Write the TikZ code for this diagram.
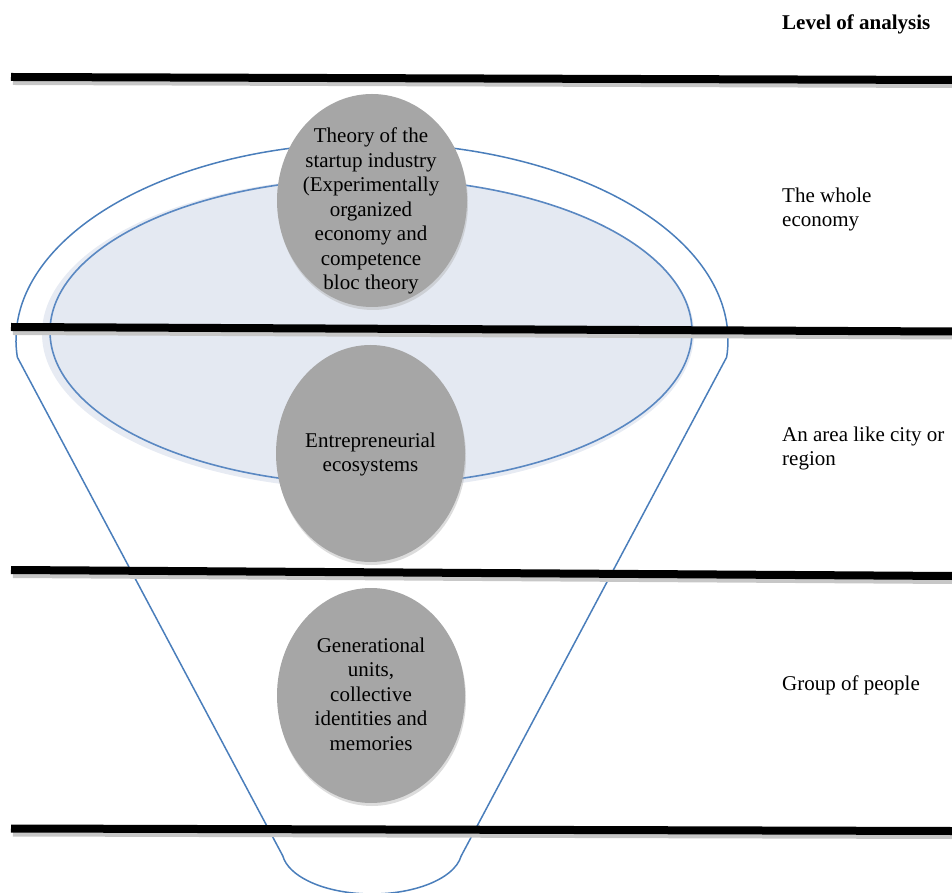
\documentclass[tikz,border=0pt]{standalone}
\usepackage{fontspec}
\setmainfont{LiberationSerif}[Extension=.ttf, UprightFont=*-Regular, BoldFont=*-Bold, ItalicFont=*-Italic, BoldItalicFont=*-BoldItalic]
\usetikzlibrary{shapes.geometric}
\definecolor{funnelblue}{HTML}{4A7EBB}
\definecolor{ringblue}{HTML}{5A88C2}
\definecolor{ovalfill}{HTML}{E4E9F2}
\definecolor{halofill}{HTML}{E7EBF3}
\definecolor{bubblegray}{HTML}{A6A6A6}
\begin{document}
\begin{tikzpicture}[x=1pt,y=1pt,
  hbar/.style={line width=8pt, black},
  hbarshadow/.style={line width=6pt, black!22},
  bubble/.style={shape=ellipse, fill=bubblegray, draw=none, inner sep=0pt},
  bubbleshadow/.style={shape=ellipse, fill=black!30, opacity=0.45, draw=none, inner sep=0pt},
  bubbletext/.style={align=center, font=\fontsize{21}{24.5}\selectfont, inner sep=0pt},
  leveltext/.style={align=left, anchor=west, font=\fontsize{21}{24}\selectfont, inner sep=0pt}]
\useasboundingbox (0,0) rectangle (952,892);
\clip (0,0) rectangle (952,892);

% inner oval with halo
\fill[halofill] (368,558.5) ellipse [x radius=326, y radius=156];
\filldraw[fill=ovalfill, draw=ringblue, line width=1.6pt] (371,560.5) ellipse [x radius=321, y radius=153];

% funnel outline
\draw[funnelblue, line width=1.5pt, line join=round]
  (282.9,35.9) -- (17.35,534.8)
  arc[start angle=185, end angle=-5, x radius=356, y radius=197]
  -- (461.1,35.9)
  arc[start angle=-8, end angle=-172, x radius=90, y radius=44]
  -- cycle;

% bubbles
\node[bubbleshadow, minimum width=190pt, minimum height=213pt] at (373,688.5) {};
\node[bubble, minimum width=190pt, minimum height=213pt] (c1) at (372,691.5) {};
\node[bubbleshadow, minimum width=189pt, minimum height=217pt] at (371.5,435.5) {};
\node[bubble, minimum width=189pt, minimum height=217pt] (c2) at (370.5,438.5) {};
\node[bubbleshadow, minimum width=188pt, minimum height=215pt] at (372,193.5) {};
\node[bubble, minimum width=188pt, minimum height=215pt] (c3) at (371,196.5) {};

% horizontal bars
\draw[hbarshadow] (13,810) -- (952,807);
\draw[hbar] (11,815) -- (952,812);
\draw[hbarshadow] (13,560) -- (952,555.5);
\draw[hbar] (11,565) -- (952,560.5);
\draw[hbarshadow] (13,317) -- (952,311);
\draw[hbar] (11,322) -- (952,316);
\draw[hbarshadow] (13,58.5) -- (952,56);
\draw[hbar] (11,63.5) -- (952,61);

% bubble texts
\node[bubbletext] (t1) at (371,681) {Theory of the\\startup industry\\(Experimentally\\organized\\economy and\\competence\\bloc theory};
\node[bubbletext] (t2) at (370.5,437.5) {Entrepreneurial\\ecosystems};
\node[bubbletext] (t3) at (371,198) {Generational\\units,\\collective\\identities and\\memories};

% level labels
\node[leveltext, font=\fontsize{21}{24}\selectfont\bfseries] (h) at (782,868) {Level of analysis};
\node[leveltext] (l1) at (782,682.5) {The whole\\economy};
\node[leveltext] (l2) at (782,443.5) {An area like city or\\region};
\node[leveltext] (l3) at (782,207) {Group of people};
\end{tikzpicture}
\end{document}
